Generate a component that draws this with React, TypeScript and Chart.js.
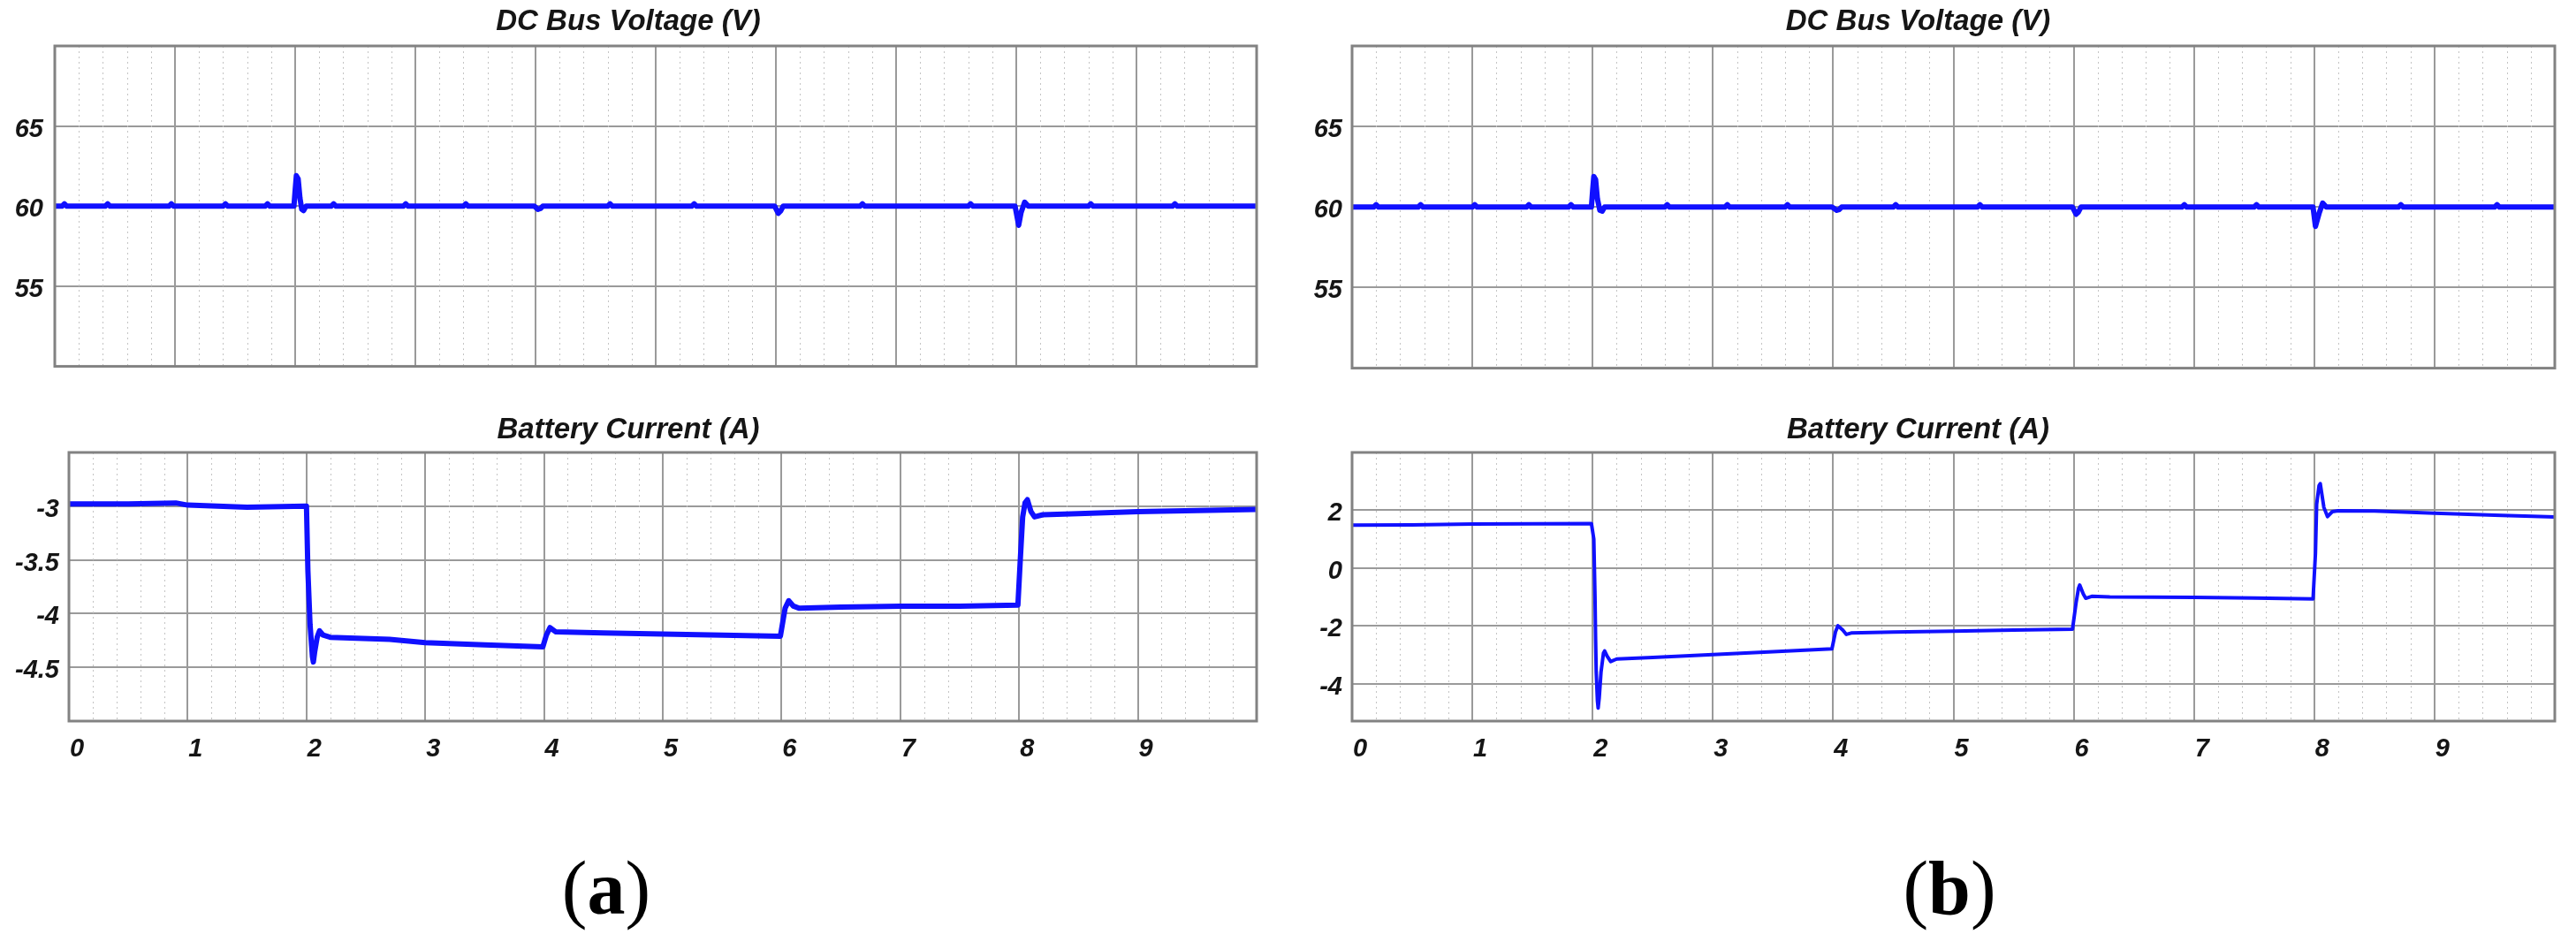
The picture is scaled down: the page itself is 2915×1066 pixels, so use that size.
import React, { useEffect, useRef } from 'react';
import { Chart, registerables } from 'chart.js';

Chart.register(...registerables);

// ---------------- data ----------------
const X_TICKS = [0, 1, 2, 3, 4, 5, 6, 7, 8, 9, 10];
const VOLT_TICKS = [55, 60, 65];
const CURR_A_TICKS = [-4.5, -4, -3.5, -3];
const CURR_B_TICKS = [-4, -2, 0, 2];

// (a) DC bus voltage (V)
const VA_T = [0, 0.06, 0.08, 0.1, 0.42, 0.44, 0.46, 0.95, 0.97, 0.99, 1.4, 1.42, 1.44, 1.75, 1.77, 1.79, 1.99, 2.0, 2.01, 2.025, 2.04, 2.055, 2.07, 2.09, 2.3, 2.32, 2.34, 2.9, 2.92, 2.94, 3.4, 3.42, 3.44, 3.99, 4.02, 4.04, 4.06, 4.6, 4.62, 4.64, 5.3, 5.32, 5.34, 5.99, 6.02, 6.04, 6.06, 6.7, 6.72, 6.74, 7.6, 7.62, 7.64, 7.99, 8.02, 8.04, 8.07, 8.1, 8.6, 8.62, 8.64, 9.3, 9.32, 9.34, 10];
const VA_V = [60, 60, 60.15, 60, 60, 60.15, 60, 60, 60.15, 60, 60, 60.15, 60, 60, 60.15, 60, 60, 61.0, 61.9, 61.7, 60.5, 59.8, 59.72, 60.0, 60, 60.15, 60, 60, 60.15, 60, 60, 60.15, 60, 60, 59.8, 59.85, 60, 60, 60.15, 60, 60, 60.15, 60, 60, 59.55, 59.7, 60, 60, 60.15, 60, 60, 60.15, 60, 60, 58.8, 59.6, 60.25, 60, 60, 60.15, 60, 60, 60.15, 60, 60];

// (a) Battery current (A)
const IA_T = [0, 0.5, 0.9, 1.0, 1.5, 1.99, 2.0, 2.012, 2.03, 2.05, 2.058, 2.07, 2.09, 2.11, 2.14, 2.2, 2.7, 3.0, 3.5, 3.99, 4.02, 4.05, 4.1, 4.5, 5.0, 5.5, 5.99, 6.03, 6.06, 6.1, 6.15, 6.5, 7.0, 7.5, 7.99, 8.01, 8.03, 8.05, 8.07, 8.1, 8.13, 8.2, 8.5, 9.0, 9.5, 10];
const IA_V = [-2.98, -2.98, -2.97, -2.99, -3.01, -3.0, -3.0, -3.6, -4.1, -4.4, -4.45, -4.35, -4.22, -4.16, -4.2, -4.22, -4.24, -4.27, -4.29, -4.31, -4.2, -4.13, -4.17, -4.18, -4.19, -4.2, -4.21, -3.95, -3.88, -3.93, -3.95, -3.94, -3.93, -3.93, -3.92, -3.5, -3.1, -2.97, -2.94, -3.05, -3.1, -3.08, -3.07, -3.05, -3.04, -3.03];

// (b) DC bus voltage (V)
const VB_T = [0, 0.18, 0.2, 0.22, 0.55, 0.57, 0.59, 1.0, 1.02, 1.04, 1.45, 1.47, 1.49, 1.8, 1.82, 1.84, 1.99, 2.0, 2.01, 2.025, 2.04, 2.06, 2.08, 2.1, 2.6, 2.62, 2.64, 3.1, 3.12, 3.14, 3.6, 3.62, 3.64, 3.99, 4.03, 4.05, 4.07, 4.5, 4.52, 4.54, 5.2, 5.22, 5.24, 5.99, 6.02, 6.04, 6.06, 6.9, 6.92, 6.94, 7.5, 7.52, 7.54, 7.99, 8.01, 8.04, 8.07, 8.1, 8.7, 8.72, 8.74, 9.5, 9.52, 9.54, 10];
const VB_V = [60, 60, 60.15, 60, 60, 60.15, 60, 60, 60.15, 60, 60, 60.15, 60, 60, 60.15, 60, 60, 61.0, 61.9, 61.7, 60.5, 59.8, 59.75, 60.0, 60, 60.15, 60, 60, 60.15, 60, 60, 60.15, 60, 60, 59.8, 59.85, 60, 60, 60.15, 60, 60, 60.15, 60, 60, 59.55, 59.7, 60, 60, 60.15, 60, 60, 60.15, 60, 60, 58.8, 59.6, 60.25, 60, 60, 60.15, 60, 60, 60.15, 60, 60];

// (b) Battery current (A)
const IB_T = [0, 0.5, 1.0, 1.5, 1.99, 2.01, 2.02, 2.025, 2.03, 2.04, 2.046, 2.055, 2.07, 2.09, 2.1, 2.12, 2.15, 2.2, 2.5, 3.0, 3.5, 3.99, 4.02, 4.04, 4.08, 4.11, 4.15, 4.5, 5.0, 5.5, 5.99, 6.02, 6.04, 6.05, 6.08, 6.1, 6.15, 6.3, 7.0, 7.5, 7.99, 8.01, 8.02, 8.04, 8.05, 8.08, 8.11, 8.15, 8.2, 8.5, 9.0, 9.5, 10];
const IB_V = [1.48, 1.49, 1.52, 1.53, 1.54, 1.0, -1.0, -2.5, -3.6, -4.6, -4.85, -4.5, -3.6, -2.95, -2.87, -3.05, -3.24, -3.15, -3.1, -3.0, -2.9, -2.8, -2.2, -2.0, -2.15, -2.3, -2.25, -2.22, -2.19, -2.15, -2.12, -1.2, -0.7, -0.59, -0.9, -1.05, -0.98, -1.0, -1.02, -1.04, -1.07, 0.5, 2.2, 2.85, 2.92, 2.1, 1.78, 1.95, 1.98, 1.97, 1.9, 1.83, 1.77];

// ---------------- styles ----------------
const BLUE = '#1010ff';
const MAJOR = '#9a9a9a';
const MINOR = '#c4c4c4';
const FRAME = '#828282';
const TEXT = '#151515';
const SANS = "'Liberation Sans', Arial, Helvetica, sans-serif";

const scopePlugin = {
  id: 'scopeDecor',
  beforeDatasetsDraw(chart: any) {
    const { ctx, chartArea: a, scales } = chart;
    const x = scales.x;
    ctx.save();
    ctx.strokeStyle = MINOR;
    ctx.lineWidth = 1;
    ctx.setLineDash([2, 4]);
    for (let i = 1; i < 50; i++) {
      if (i % 5 === 0) continue;
      const px = Math.round(x.getPixelForValue(i * 0.2)) + 0.5;
      ctx.beginPath();
      ctx.moveTo(px, a.top);
      ctx.lineTo(px, a.bottom);
      ctx.stroke();
    }
    ctx.restore();
  },
  afterDraw(chart: any) {
    const { ctx, chartArea: a } = chart;
    ctx.save();
    ctx.strokeStyle = FRAME;
    ctx.lineWidth = 3;
    ctx.strokeRect(a.left, a.top, a.right - a.left, a.bottom - a.top);
    ctx.restore();
  },
};

type ScopeProps = {
  left: number;
  top: number;
  width: number;
  height: number;
  title: string;
  t: number[];
  v: number[];
  yMin: number;
  yMax: number;
  yTicks: number[];
  showX: boolean;
  yAxisWidth: number;
  yPad: number;
  rightPad: number;
  titlePadTop: number;
  titlePadBottom: number;
  xAxisHeight: number;
  lineWidth: number;
};

function Scope(p: ScopeProps) {
  const ref = useRef<HTMLCanvasElement | null>(null);
  useEffect(() => {
    if (!ref.current) return;
    const tickFont = { family: SANS, size: 29, weight: 'bold' as const, style: 'italic' as const };
    const chart = new Chart(ref.current, {
      type: 'line',
      data: {
        datasets: [
          {
            data: p.t.map((tt, i) => ({ x: tt, y: p.v[i] })),
            borderColor: BLUE,
            borderWidth: p.lineWidth,
            pointRadius: 0,
            tension: 0,
            fill: false,
            borderJoinStyle: 'round',
            borderCapStyle: 'round',
          },
        ],
      },
      options: {
        animation: false,
        responsive: false,
        maintainAspectRatio: false,
        devicePixelRatio: 1,
        layout: { padding: { left: 0, right: p.rightPad, top: 0, bottom: 0 } },
        plugins: {
          legend: { display: false },
          tooltip: { enabled: false },
          title: {
            display: true,
            text: p.title,
            color: TEXT,
            font: { family: SANS, size: 33, weight: 'bold', style: 'italic', lineHeight: 1.2 },
            padding: { top: p.titlePadTop, bottom: p.titlePadBottom },
          },
        },
        scales: {
          x: {
            type: 'linear',
            min: 0,
            max: 10,
            afterBuildTicks: (s: any) => {
              s.ticks = X_TICKS.map((value) => ({ value }));
            },
            afterFit: (s: any) => {
              s.height = p.xAxisHeight;
            },
            ticks: {
              display: p.showX,
              color: TEXT,
              font: tickFont,
              padding: 15,
              labelOffset: 9,
              maxRotation: 0,
              autoSkip: false,
              callback: (val: any) => (val === 10 ? '' : String(val)),
            },
            grid: { color: MAJOR, lineWidth: 2, drawTicks: false },
            border: { display: false },
          },
          y: {
            type: 'linear',
            min: p.yMin,
            max: p.yMax,
            afterBuildTicks: (s: any) => {
              s.ticks = p.yTicks.map((value) => ({ value }));
            },
            afterFit: (s: any) => {
              s.width = p.yAxisWidth;
            },
            ticks: {
              color: TEXT,
              font: tickFont,
              padding: p.yPad,
              labelOffset: 4,
              autoSkip: false,
              callback: (val: any) => String(val),
            },
            grid: { color: MAJOR, lineWidth: 2, drawTicks: false },
            border: { display: false },
          },
        },
      },
      plugins: [scopePlugin],
    });
    return () => chart.destroy();
  }, []);
  return (
    <canvas
      ref={ref}
      width={p.width}
      height={p.height}
      style={{ position: 'absolute', left: p.left, top: p.top, width: p.width, height: p.height }}
    />
  );
}

const captionStyle: React.CSSProperties = {
  position: 'absolute',
  top: 962,
  width: 200,
  textAlign: 'center',
  fontFamily: "'Liberation Serif', 'Times New Roman', serif",
  fontSize: 86,
  lineHeight: '86px',
  color: '#000',
};

export default function App() {
  return (
    <div style={{ position: 'absolute', left: 0, top: 0, width: 2915, height: 1066, background: '#fff', overflow: 'hidden' }}>
      <Scope left={0} top={0} width={1440} height={445} title="DC Bus Voltage (V)" t={VA_T} v={VA_V}
        yMin={50} yMax={70} yTicks={VOLT_TICKS} showX={false} yAxisWidth={62} yPad={13} rightPad={18}
        titlePadTop={5} titlePadBottom={7.4} xAxisHeight={12} lineWidth={6} />
      <Scope left={0} top={460} width={1440} height={440} title="Battery Current (A)" t={IA_T} v={IA_V}
        yMin={-5} yMax={-2.5} yTicks={CURR_A_TICKS} showX={true} yAxisWidth={78} yPad={11} rightPad={18}
        titlePadTop={7} titlePadBottom={5.4} xAxisHeight={84} lineWidth={6} />
      <Scope left={1450} top={0} width={1465} height={445} title="DC Bus Voltage (V)" t={VB_T} v={VB_V}
        yMin={50} yMax={70} yTicks={VOLT_TICKS} showX={false} yAxisWidth={80} yPad={11} rightPad={24}
        titlePadTop={5} titlePadBottom={7.4} xAxisHeight={12} lineWidth={6} />
      <Scope left={1450} top={460} width={1465} height={440} title="Battery Current (A)" t={IB_T} v={IB_V}
        yMin={-5.3} yMax={4} yTicks={CURR_B_TICKS} showX={true} yAxisWidth={80} yPad={11} rightPad={24}
        titlePadTop={7} titlePadBottom={5.4} xAxisHeight={84} lineWidth={4} />
      <div style={{ ...captionStyle, left: 686 - 100 }}>(<b>a</b>)</div>
      <div style={{ ...captionStyle, left: 2206 - 100 }}>(<b>b</b>)</div>
    </div>
  );
}
